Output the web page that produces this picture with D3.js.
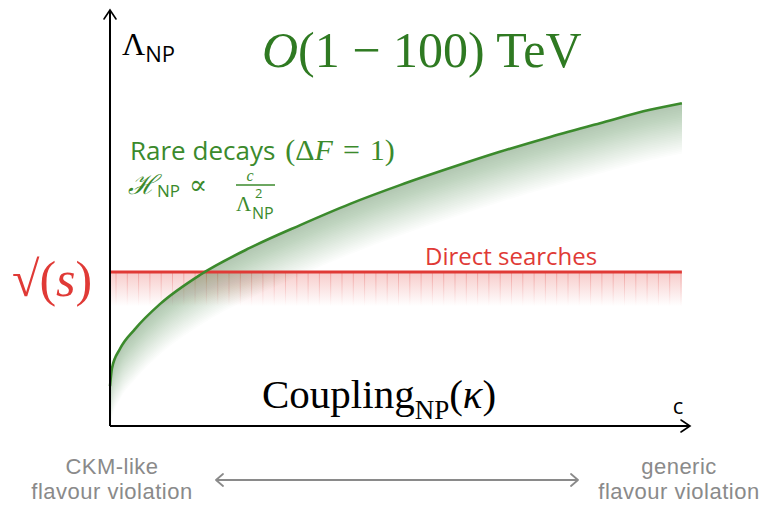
<!DOCTYPE html>
<html>
<head>
<meta charset="utf-8">
<script src="https://cdn.jsdelivr.net/npm/d3@7"></script>
<style>
  body { margin: 0; background: #fff; }
  svg { display: block; }
</style>
</head>
<body>
<div id="chart"></div>
<script>
// rare-decay bound: coupling c vs scale Lambda_NP (arbitrary units)
const couplings = [0, 0.034, 0.17, 0.43, 0.86, 1.55, 2.41, 3.28, 4.14, 5.00, 5.86, 6.72, 7.59, 8.45, 9.31, 9.86];
const scales    = [0.96, 1.39, 1.85, 2.33, 2.93, 3.63, 4.28, 4.83, 5.34, 5.79, 6.20, 6.59, 6.95, 7.28, 7.60, 7.76];
// direct searches reach
const directLevel = 3.70;
const directSpan = [0, 9.86];
const leftLabel = ['CKM-like', 'flavour violation'];
const rightLabel = ['generic', 'flavour violation'];

const width = 762, height = 506;
const green = '#3b8a2c', red = '#e03a36', grey = '#8a8a8a';
const serif = '"Liberation Serif", "DejaVu Serif", serif';
const sans = '"Open Sans", "Noto Sans", sans-serif';

const x = d3.scaleLinear().domain([0, 10]).range([110, 690]);
const y = d3.scaleLinear().domain([0, 10]).range([426, 10]);

const data = couplings.map((c, i) => ({ c, l: scales[i] }));

const svg = d3.select('#chart').append('svg')
  .attr('width', width)
  .attr('height', height);

const defs = svg.append('defs');

defs.append('clipPath').attr('id', 'plot')
  .append('rect')
  .attr('x', x(0)).attr('y', y(10))
  .attr('width', x(directSpan[1]) - x(0))
  .attr('height', y(0) - y(10));

// red fade below the direct-search line
const bandH = 34;
const rg = defs.append('linearGradient')
  .attr('id', 'redFade')
  .attr('gradientUnits', 'userSpaceOnUse')
  .attr('x1', 0).attr('x2', 0)
  .attr('y1', y(directLevel)).attr('y2', y(directLevel) + bandH);
rg.append('stop').attr('offset', 0).attr('stop-color', red).attr('stop-opacity', 0.26);
rg.append('stop').attr('offset', 1).attr('stop-color', red).attr('stop-opacity', 0);

const rgLines = defs.append('linearGradient')
  .attr('id', 'redFadeLines')
  .attr('gradientUnits', 'userSpaceOnUse')
  .attr('x1', 0).attr('x2', 0)
  .attr('y1', y(directLevel)).attr('y2', y(directLevel) + bandH);
rgLines.append('stop').attr('offset', 0).attr('stop-color', red).attr('stop-opacity', 0.3);
rgLines.append('stop').attr('offset', 1).attr('stop-color', red).attr('stop-opacity', 0);

svg.append('rect')
  .attr('x', x(directSpan[0]))
  .attr('y', y(directLevel))
  .attr('width', x(directSpan[1]) - x(directSpan[0]))
  .attr('height', bandH)
  .attr('fill', 'url(#redFade)');

svg.append('g').selectAll('line')
  .data(d3.range(x(directSpan[0]) + 6, x(directSpan[1]), 11.3))
  .join('line')
  .attr('x1', d => d).attr('x2', d => d)
  .attr('y1', y(directLevel)).attr('y2', y(directLevel) + bandH)
  .attr('stroke', 'url(#redFadeLines)')
  .attr('stroke-width', 1);

// green fade under the curve: nested bands that build up towards the line
const bands = d3.range(1, 29);
const shade = svg.append('g').attr('clip-path', 'url(#plot)');
shade.selectAll('path')
  .data(bands)
  .join('path')
  .attr('d', k => d3.area()
    .x(d => x(d.c))
    .y0(d => y(d.l) + k * 1.8)
    .y1(d => y(d.l))
    .curve(d3.curveMonotoneX)(data))
  .attr('fill', green)
  .attr('fill-opacity', 0.014);

// red line
svg.append('line')
  .attr('x1', x(directSpan[0])).attr('x2', x(directSpan[1]))
  .attr('y1', y(directLevel)).attr('y2', y(directLevel))
  .attr('stroke', red)
  .attr('stroke-width', 3);

// green curve
svg.append('path')
  .datum(data)
  .attr('d', d3.line().x(d => x(d.c)).y(d => y(d.l)).curve(d3.curveMonotoneX))
  .attr('fill', 'none')
  .attr('stroke', green)
  .attr('stroke-width', 2.6);

// axes with arrows
const axes = svg.append('g').attr('stroke', '#000').attr('stroke-width', 2).attr('fill', 'none');
axes.append('path').attr('d', `M${x(0)},${y(0)}V${y(10)}M${x(10)},${y(0)}H${x(0)}`);
axes.append('path')
  .attr('d', `M${x(0) - 6},${y(10) + 9}Q${x(0) - 2},${y(10) + 3} ${x(0)},${y(10)}Q${x(0) + 2},${y(10) + 3} ${x(0) + 6},${y(10) + 9}`)
  .attr('stroke-width', 1.6).attr('stroke-linecap', 'round');
axes.append('path')
  .attr('d', `M${x(10) - 9},${y(0) - 6}Q${x(10) - 3},${y(0) - 2} ${x(10)},${y(0)}Q${x(10) - 3},${y(0) + 2} ${x(10) - 9},${y(0) + 6}`)
  .attr('stroke-width', 1.6).attr('stroke-linecap', 'round');

// y label
const yl = svg.append('text').attr('x', 122).attr('y', 55).attr('fill', '#000');
yl.append('tspan').attr('font-family', serif).attr('font-size', 32).text('Λ');
yl.append('tspan').attr('font-family', sans).attr('font-size', 22).attr('dy', 7).text('NP');

// x label
svg.append('text')
  .attr('x', 678).attr('y', 414)
  .attr('text-anchor', 'middle')
  .attr('font-family', sans).attr('font-size', 22)
  .text('c');

// big green title
const tt = svg.append('text')
  .attr('x', 262).attr('y', 67)
  .attr('fill', '#2f7a22')
  .attr('font-family', serif).attr('font-size', 50);
tt.append('tspan').attr('font-style', 'italic').text('O');
tt.append('tspan').text('(1 − 100) TeV');

// rare decays annotation
const r1 = svg.append('text').attr('x', 130).attr('y', 160).attr('fill', green);
r1.append('tspan').attr('font-family', sans).attr('font-size', 26).text('Rare decays');
r1.append('tspan').attr('font-family', serif).attr('font-size', 30).attr('dx', 10).text('(Δ');
r1.append('tspan').attr('font-family', serif).attr('font-size', 30).attr('font-style', 'italic').text('F');
r1.append('tspan').attr('font-family', serif).attr('font-size', 30).attr('dx', 10).text('=');
r1.append('tspan').attr('font-family', serif).attr('font-size', 30).attr('dx', 10).text('1)');

const r2 = svg.append('text').attr('x', 128).attr('y', 194).attr('fill', green);
r2.append('tspan').attr('font-family', serif).attr('font-size', 27).attr('font-style', 'italic').text('ℋ');
r2.append('tspan').attr('font-family', sans).attr('font-size', 17).attr('dy', 3).text('NP');
r2.append('tspan').attr('font-family', serif).attr('font-size', 27).attr('dy', -3).attr('dx', 9).text('∝');

svg.append('text')
  .attr('x', 250).attr('y', 181)
  .attr('text-anchor', 'middle')
  .attr('fill', green)
  .attr('font-family', serif).attr('font-size', 16).attr('font-style', 'italic')
  .text('c');
svg.append('line')
  .attr('x1', 236).attr('x2', 275).attr('y1', 185).attr('y2', 185)
  .attr('stroke', green).attr('stroke-width', 1.3);
svg.append('text').attr('x', 236).attr('y', 211).attr('fill', green)
  .attr('font-family', serif).attr('font-size', 21).text('Λ');
svg.append('text').attr('x', 255).attr('y', 198).attr('fill', green)
  .attr('font-family', sans).attr('font-size', 13).text('2');
svg.append('text').attr('x', 252).attr('y', 219).attr('fill', green)
  .attr('font-family', sans).attr('font-size', 16).text('NP');

// direct searches label
svg.append('text')
  .attr('x', 425).attr('y', 265)
  .attr('fill', red)
  .attr('font-family', sans).attr('font-size', 24)
  .text('Direct searches');

// sqrt(s) label
const sq = svg.append('text')
  .attr('x', 12).attr('y', 296)
  .attr('fill', red)
  .attr('font-family', serif).attr('font-size', 50);
sq.append('tspan').text('√(');
sq.append('tspan').attr('font-style', 'italic').text('s');
sq.append('tspan').text(')');

// coupling label
const cl = svg.append('text').attr('x', 262).attr('y', 408).attr('fill', '#000').attr('font-family', serif);
cl.append('tspan').attr('font-size', 41).text('Coupling');
cl.append('tspan').attr('font-size', 27).attr('dy', 11).text('NP');
cl.append('tspan').attr('font-size', 41).attr('dy', -11).text('(');
cl.append('tspan').attr('font-size', 41).attr('font-style', 'italic').text('κ');
cl.append('tspan').attr('font-size', 41).text(')');

// bottom: flavour structure scale
const bottom = svg.append('g')
  .attr('fill', grey)
  .attr('font-family', '"Liberation Sans", Arial, sans-serif')
  .attr('font-size', 22)
  .attr('letter-spacing', 0.5)
  .attr('text-anchor', 'middle');
[[112, leftLabel], [679, rightLabel]].forEach(([cx, lines]) => {
  lines.forEach((s, i) => {
    bottom.append('text').attr('x', cx).attr('y', 474 + i * 25).text(s);
  });
});

const ay = 480, ax0 = 216, ax1 = 578;
svg.append('path')
  .attr('d', `M${ax0},${ay}H${ax1}M${ax0 + 7},${ay - 6}L${ax0},${ay}L${ax0 + 7},${ay + 6}M${ax1 - 7},${ay - 6}L${ax1},${ay}L${ax1 - 7},${ay + 6}`)
  .attr('fill', 'none')
  .attr('stroke', grey)
  .attr('stroke-width', 1.8)
  .attr('stroke-linecap', 'round')
  .attr('stroke-linejoin', 'round');
</script>
</body>
</html>
